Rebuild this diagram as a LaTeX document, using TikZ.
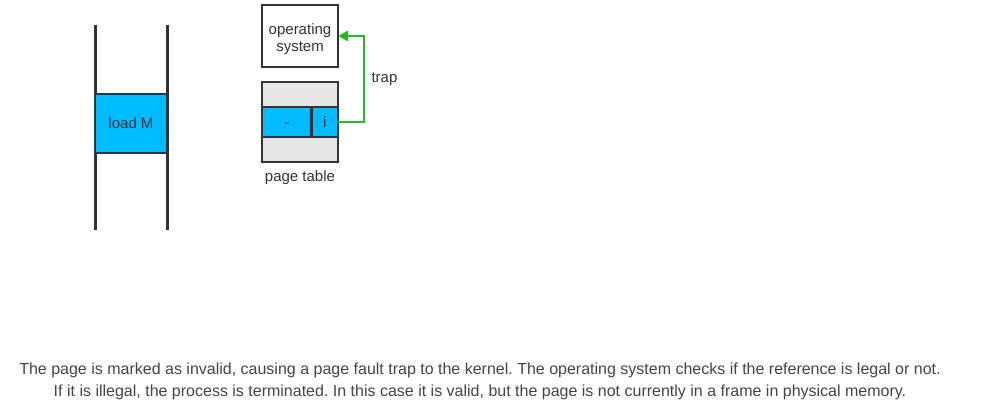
\documentclass[tikz,border=0pt]{standalone}
\usepackage{fontspec}
\setmainfont{Liberation Sans}
\usetikzlibrary{arrows.meta}
\definecolor{dk}{HTML}{333333}
\definecolor{cyanfill}{HTML}{00BBFF}
\definecolor{grayfill}{HTML}{E6E6E6}
\definecolor{trapgreen}{HTML}{22BB22}
\definecolor{captxt}{HTML}{444444}
\tikzset{
  cell/.style={draw=dk, line width=2.5pt, minimum width=#1, inner sep=0pt, outer sep=0pt, font=\fontsize{15}{18}\selectfont, text=dk},
  lbl/.style={font=\fontsize{15}{18}\selectfont, text=dk, align=center},
}
\frenchspacing
\begin{document}
\begin{tikzpicture}[x=1pt,y=-1pt]
\useasboundingbox (0,0) rectangle (981,411);
% memory column
\draw[dk, line width=3pt] (95,25) -- (95,230);
\draw[dk, line width=3pt] (167,25) -- (167,230);
\node[cell=72pt, minimum height=59pt, fill=cyanfill, anchor=north west] (load) at (95,94) {load M};
% operating system
\node[cell=76pt, minimum height=62pt, fill=white, anchor=north west, align=center] (os) at (262,5) {\raisebox{-3pt}[\height][\depth]{\shortstack{operating\\[1pt]system}}};
% page table
\node[cell=76pt, minimum height=25pt, fill=grayfill, anchor=north west] (ptop) at (262,82) {};
\node[cell=49.5pt, minimum height=30pt, fill=cyanfill, anchor=north west] (pdash) at (262,107) {\raisebox{-3pt}[\height][\depth]{-}};
\node[cell=26.5pt, minimum height=30pt, fill=cyanfill, anchor=north west] (pi) at (311.5,107) {i};
\node[cell=76pt, minimum height=25pt, fill=grayfill, anchor=north west] (pbot) at (262,137) {};
\node[lbl, anchor=north] (ptl) at (300,167) {page table};
% trap arrow
\coordinate (tc1) at (364,122);
\draw[trapgreen, line width=2.5pt, -{Triangle[length=10pt,width=10pt]}] (pi.east) -- (tc1) -- (tc1 |- os.west) -- (os.east);
\node[lbl, anchor=west] (trap) at (368,79) {trap};
% caption
\node[font=\fontsize{16}{22}\selectfont, text=captxt, align=center] (cap) at (480,381) {The page is marked as invalid, causing a page fault trap to the kernel. The operating system checks if the reference is legal or not.\\If it is illegal, the process is terminated. In this case it is valid, but the page is not currently in a frame in physical memory.};
\end{tikzpicture}
\end{document}
